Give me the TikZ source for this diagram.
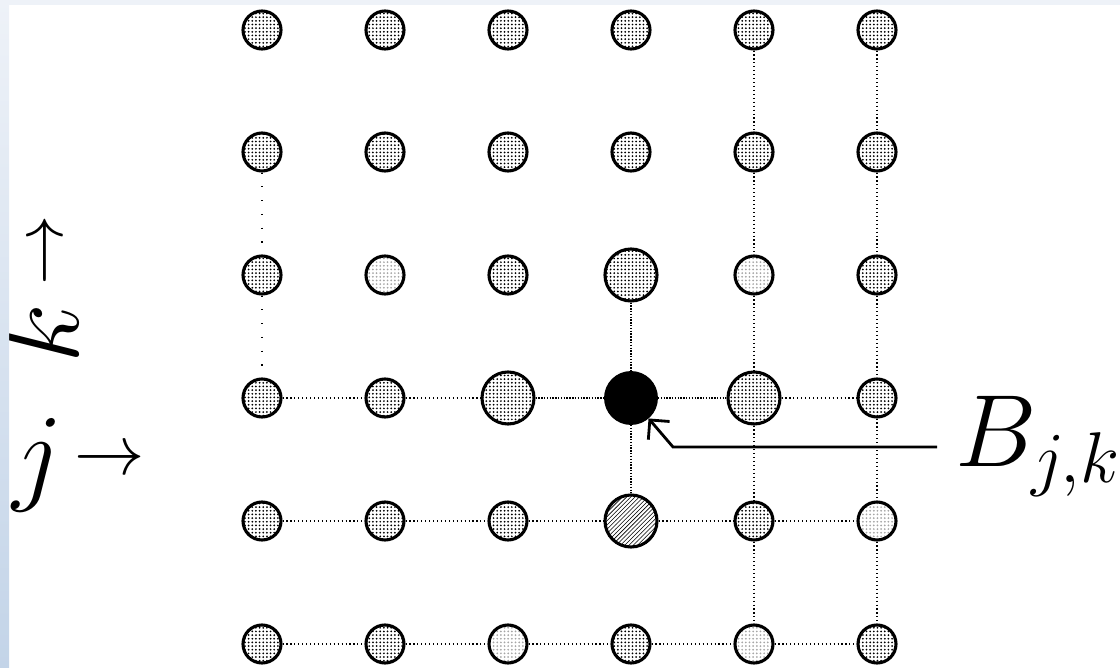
\documentclass[tikz,border=0pt]{standalone}
\usepackage{fix-cm}
\usepackage{xcolor}
\usepackage{tikz}
\usetikzlibrary{arrows.meta,patterns}

\definecolor{bandtop}{HTML}{EEF2F8}
\definecolor{bandbot}{HTML}{C3D4E8}

\pgfdeclarepatternformonly{stipple}{\pgfqpoint{-1pt}{-1pt}}{\pgfqpoint{1pt}{1pt}}{\pgfqpoint{2.6pt}{2.6pt}}{%
  \pgfpathcircle{\pgfqpoint{0pt}{0pt}}{0.7pt}\pgfusepath{fill}}

\tikzset{
  site/.style={circle,draw,line width=2.2pt,minimum size=0.95cm,inner sep=0pt,pattern=stipple},
  faintsite/.style={site,pattern color=black!35},
  bigsite/.style={site,minimum size=1.3cm},
  hatchsite/.style={bigsite,pattern=north east lines},
  centresite/.style={circle,draw,fill=black,line width=2.2pt,minimum size=1.27cm,inner sep=0pt},
  link/.style={dotted,line width=0.8pt},
  tightlink/.style={densely dotted,line width=1pt},
  sparselink/.style={line width=0.8pt,dash pattern=on 0.8pt off 9pt},
  pointer/.style={line width=2pt,-{Straight Barb[length=0.35cm,width=0.7cm]}},
  biglabel/.style={inner sep=0pt,font=\fontsize{73}{80}\selectfont},
  axislabel/.style={inner sep=0pt,font=\fontsize{78}{84}\selectfont}
}

\begin{document}
\begin{tikzpicture}[x=0.025cm,y=-0.025cm]
\useasboundingbox (0,0) rectangle (1120,668);

\node[site] (p11) at (262,30) {};
\node[site] (p21) at (385,30) {};
\node[site] (p31) at (508,30) {};
\node[site] (p41) at (631,30) {};
\node[site] (p51) at (754,30) {};
\node[site] (p61) at (877,30) {};

\node[site] (p12) at (262,152) {};
\node[site] (p22) at (385,152) {};
\node[site] (p32) at (508,152) {};
\node[site] (p42) at (631,152) {};
\node[site] (p52) at (754,152) {};
\node[site] (p62) at (877,152) {};

\node[site] (p13) at (262,275) {};
\node[faintsite] (p23) at (385,275) {};
\node[site] (p33) at (508,275) {};
\node[bigsite] (p43) at (631,275) {};
\node[faintsite] (p53) at (754,275) {};
\node[site] (p63) at (877,275) {};

\node[site] (p14) at (262,398) {};
\node[site] (p24) at (385,398) {};
\node[bigsite] (p34) at (508,398) {};
\node[centresite] (p44) at (631,398) {};
\node[bigsite] (p54) at (754,398) {};
\node[site] (p64) at (877,398) {};

\node[site] (p15) at (262,521) {};
\node[site] (p25) at (385,521) {};
\node[site] (p35) at (508,521) {};
\node[hatchsite] (p45) at (631,521) {};
\node[site] (p55) at (754,521) {};
\node[faintsite] (p65) at (877,521) {};

\node[site] (p16) at (262,644) {};
\node[site] (p26) at (385,644) {};
\node[faintsite] (p36) at (508,644) {};
\node[site] (p46) at (631,644) {};
\node[faintsite] (p56) at (754,644) {};
\node[site] (p66) at (877,644) {};

\draw[link] (p14) -- (p24) (p24) -- (p34) (p54) -- (p64);
\draw[tightlink] (p34) -- (p44) (p44) -- (p54) (p43) -- (p44) (p44) -- (p45);
\draw[link] (p15) -- (p25) (p25) -- (p35) (p35) -- (p45) (p45) -- (p55) (p55) -- (p65);
\draw[link] (p16) -- (p26) (p26) -- (p36) (p36) -- (p46) (p46) -- (p56) (p56) -- (p66);
\draw[link] (p51) -- (p52) (p52) -- (p53) (p53) -- (p54) (p54) -- (p55) (p55) -- (p56);
\draw[link] (p61) -- (p62) (p62) -- (p63) (p63) -- (p64) (p64) -- (p65) (p65) -- (p66);
\draw[sparselink] (p12) -- (p13) (p13) -- (p14);

\node[biglabel,anchor=base west,inner xsep=0.45cm] (bjk) at (937,467) {$B_{j,k}$};
\coordinate (bend) at (673,447);
\draw[pointer] (bjk.west |- bend) -- (bend) -- (p44);

\node[axislabel,rotate=90,anchor=base west] (klab) at (78,364) {$k$\hspace{13pt}\raisebox{11pt}{\fontsize{50}{54}\selectfont$\rightarrow$}};
\node[axislabel,anchor=base west] (jlab) at (12,491) {$j$\hspace{8.5pt}\raisebox{11.5pt}{\fontsize{50}{54}\selectfont$\rightarrow$}};

\shade[top color=bandtop,bottom color=bandbot] (0,0) rectangle (9,668);
\fill[bandtop] (0,0) rectangle (1120,5);
\end{tikzpicture}
\end{document}
